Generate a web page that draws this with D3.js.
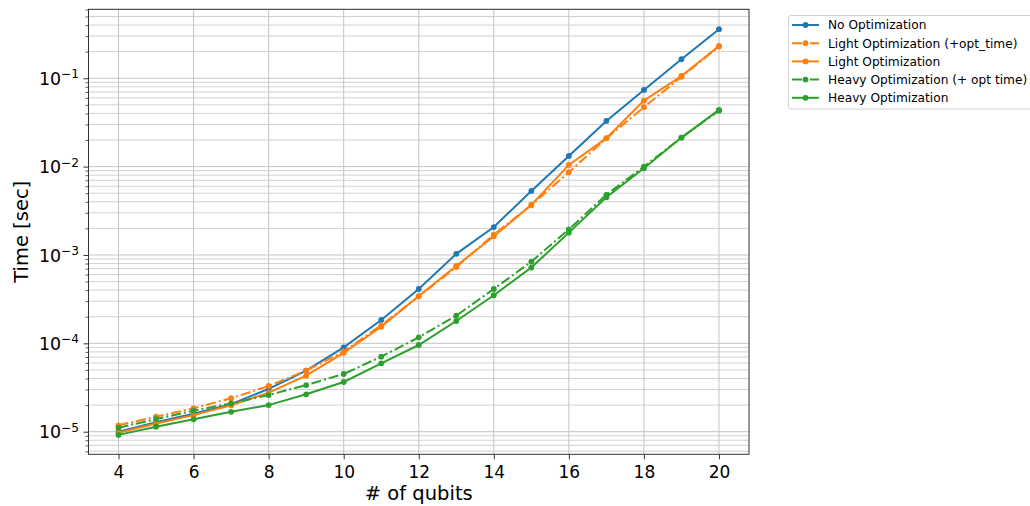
<!DOCTYPE html>
<html><head><meta charset="utf-8">
<script src="https://cdn.jsdelivr.net/npm/d3@7"></script>
<style>body{margin:0;background:#fff;} svg{display:block;font-family:"DejaVu Sans",sans-serif;}</style>
</head><body>
<svg id="c" width="1030" height="506"></svg>
<script>
const qubits = [4,5,6,7,8,9,10,11,12,13,14,15,16,17,18,19,20];
const noOpt      = [1.0e-5,1.28e-5,1.6e-5,2.05e-5,3.05e-5,4.9e-5,9.0e-5,1.84e-4,4.12e-4,1.03e-3,2.07e-3,5.3e-3,1.32e-2,3.29e-2,7.38e-2,0.164,0.359];
const lightOptT  = [1.18e-5,1.48e-5,1.84e-5,2.39e-5,3.29e-5,4.9e-5,8.1e-5,1.6e-4,3.4e-4,7.3e-4,1.7e-3,3.68e-3,8.63e-3,2.09e-2,4.7e-2,0.104,0.228];
const lightOpt   = [9.75e-6,1.24e-5,1.54e-5,1.99e-5,2.77e-5,4.3e-5,7.8e-5,1.54e-4,3.43e-4,7.5e-4,1.63e-3,3.68e-3,1.045e-2,2.1e-2,5.58e-2,0.106,0.232];
const heavyOptT  = [1.11e-5,1.39e-5,1.73e-5,2.09e-5,2.6e-5,3.37e-5,4.5e-5,7.06e-5,1.17e-4,2.06e-4,4.12e-4,8.4e-4,1.95e-3,4.8e-3,1.0e-2,2.13e-2,0.043];
const heavyOpt   = [9.2e-6,1.14e-5,1.38e-5,1.68e-5,2.0e-5,2.65e-5,3.65e-5,5.94e-5,9.57e-5,1.79e-4,3.5e-4,7.2e-4,1.79e-3,4.5e-3,9.57e-3,2.13e-2,0.0438];
const seriesNames = ["No Optimization","Light Optimization (+opt_time)","Light Optimization","Heavy Optimization (+ opt time)","Heavy Optimization"];
const seriesColors = ["#1f77b4","#ff7f0e","#ff7f0e","#2ca02c","#2ca02c"];
const seriesDashed = [false,true,false,true,false];
const seriesValues = [noOpt,lightOptT,lightOpt,heavyOptT,heavyOpt];
const xTicks = [4,6,8,10,12,14,16,18,20];
const yTickExps = [-5,-4,-3,-2,-1];

const svg = d3.select("#c");
const L=88.5, R=749, T=9.3, B=454.3;
const DASH = "10,3,2,3";
const x = d3.scaleLinear().domain([3.2,20.8]).range([L,R]);
const y = d3.scaleLog().domain([Math.pow(10,-5.2558),Math.pow(10,-0.2197)]).range([B,T]);

// grid
const g = svg.append("g");
const minorVals = [];
for (let e=-6;e<=0;e++) for (let m=1;m<=9;m++){const v=m*Math.pow(10,e); if(v>=y.domain()[0]&&v<=y.domain()[1]) minorVals.push({v,major:m===1});}
g.selectAll("line.h").data(minorVals).enter().append("line")
 .attr("x1",L).attr("x2",R).attr("y1",d=>y(d.v)).attr("y2",d=>y(d.v))
 .attr("stroke",d=>d.major?"#c4c4c4":"#d2d2d2").attr("stroke-width",1);
g.selectAll("line.v").data(xTicks).enter().append("line")
 .attr("y1",T).attr("y2",B).attr("x1",d=>x(d)).attr("x2",d=>x(d))
 .attr("stroke","#c4c4c4").attr("stroke-width",1);

// series
const line = d3.line().x((d,i)=>x(qubits[i])).y(d=>y(d));
seriesValues.forEach((vals,si)=>{
  svg.append("path").datum(vals).attr("d",line).attr("fill","none")
   .attr("stroke",seriesColors[si]).attr("stroke-width",2)
   .attr("stroke-dasharray",seriesDashed[si]?DASH:null);
  svg.append("g").selectAll("circle").data(vals).enter().append("circle")
   .attr("cx",(d,i)=>x(qubits[i])).attr("cy",d=>y(d)).attr("r",2.9).attr("fill",seriesColors[si]);
});

// axes
const xAxis = d3.axisBottom(x).tickValues(xTicks).tickSize(5).tickFormat(d3.format("d"));
const xg = svg.append("g").attr("transform",`translate(0,${B})`).call(xAxis);
xg.select(".domain").remove();
xg.selectAll("text").attr("font-size",17).attr("fill","#000").attr("font-family","DejaVu Sans").attr("y",23.4).attr("dy",0);
xg.selectAll("line").attr("stroke","#333");

const yAxis = d3.axisLeft(y).tickValues(yTickExps.map(e=>Math.pow(10,e))).tickSize(5).tickFormat("");
const yg = svg.append("g").attr("transform",`translate(${L},0)`).call(yAxis);
yg.select(".domain").remove();
yg.selectAll("line").attr("stroke","#333");
const minorOnly = minorVals.filter(d=>!d.major).map(d=>d.v);
const ym = svg.append("g").attr("transform",`translate(${L},0)`).call(d3.axisLeft(y).tickValues(minorOnly).tickSize(3).tickFormat(""));
ym.select(".domain").remove();
ym.selectAll("line").attr("stroke","#333").attr("stroke-width",0.8);

yTickExps.forEach(e=>{
  const t = svg.append("text").attr("x",L-9.5).attr("y",y(Math.pow(10,e))+6.7).attr("text-anchor","end").attr("font-size",17.4).attr("fill","#000");
  t.append("tspan").text("10");
  t.append("tspan").attr("dy",-6.8).attr("font-size",12.2).text("\u2212"+Math.abs(e));
});

// spines
svg.append("rect").attr("x",L).attr("y",T).attr("width",R-L).attr("height",B-T).attr("fill","none").attr("stroke","#333").attr("stroke-width",1);

// labels
svg.append("text").attr("x",(L+R)/2).attr("y",499.5).attr("text-anchor","middle").attr("font-size",19.5).attr("fill","#000").text("# of qubits");
svg.append("text").attr("transform",`translate(27.5,${(T+B)/2}) rotate(-90)`).attr("text-anchor","middle").attr("font-size",19.5).attr("fill","#000").text("Time [sec]");

// legend
const lg = svg.append("g");
lg.append("rect").attr("x",788.5).attr("y",15.5).attr("width",250).attr("height",93.5).attr("rx",2.5).attr("fill","#fff").attr("stroke","#d0d0d0").attr("stroke-width",1);
seriesNames.forEach((n,i)=>{
  const yy = 25 + i*18.2;
  lg.append("line").attr("x1",792).attr("x2",819).attr("y1",yy).attr("y2",yy).attr("stroke",seriesColors[i]).attr("stroke-width",2)
   .attr("stroke-dasharray",seriesDashed[i]?DASH:null);
  lg.append("circle").attr("cx",805.5).attr("cy",yy).attr("r",2.9).attr("fill",seriesColors[i]);
  lg.append("text").attr("x",828).attr("y",yy+4.3).attr("font-size",12.2).attr("fill","#000").text(n);
});
</script>
</body></html>
